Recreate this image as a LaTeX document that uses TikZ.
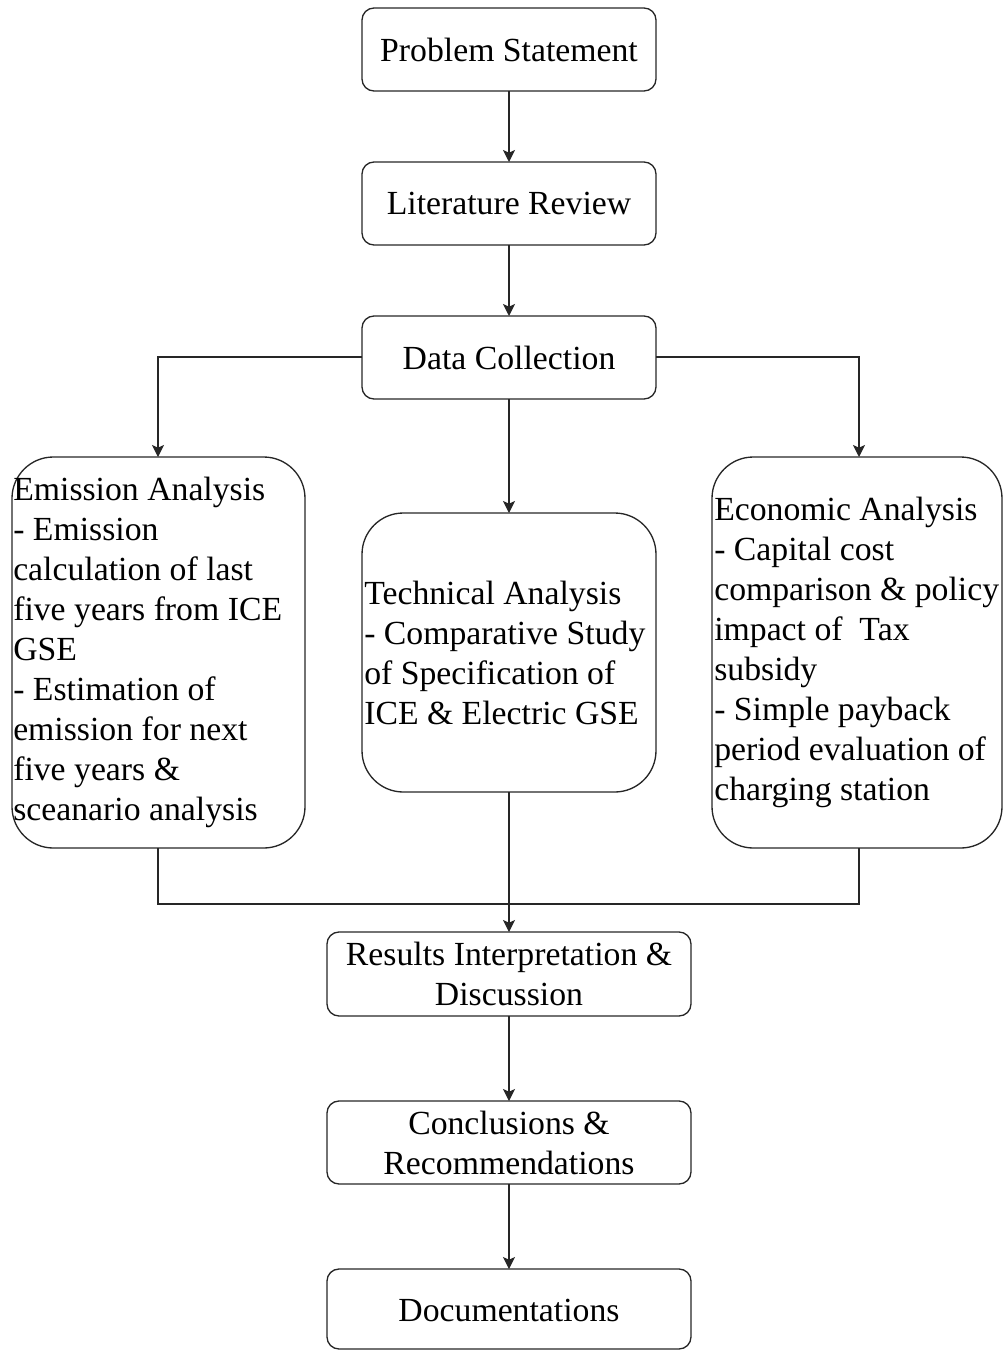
\documentclass[tikz,border=0pt]{standalone}
\usepackage{fontspec}
\setmainfont{Liberation Serif}
\usetikzlibrary{arrows.meta}
\begin{document}
\begin{tikzpicture}[x=0.75pt,y=-0.75pt,
  box/.style={draw=black!85,line width=1pt,rounded corners=9pt},
  bigbox/.style={draw=black!85,line width=1pt,rounded corners=31pt},
  txt/.style={font=\fontsize{25.3}{30}\selectfont,inner sep=0pt},
  ltxt/.style={font=\fontsize{25.3}{30}\selectfont,inner sep=0pt,align=left,anchor=west},
  conn/.style={draw=black!85,line width=1pt},
  arr/.style={conn,-{Stealth[length=9pt,width=9pt,inset=2pt]}}]
\useasboundingbox (0,0) rectangle (1003,1350);
% boxes
\draw[box] (362,8) rectangle (656,91);
\node[txt] (ps) at (509,49.5) {Problem Statement};
\draw[box] (362,162) rectangle (656,245);
\node[txt] (lr) at (509,203.5) {Literature Review};
\draw[box] (362,316) rectangle (656,399);
\node[txt] (dc) at (509,357.5) {Data Collection};
\draw[bigbox] (12,457) rectangle (305,848);
\node[ltxt] (ea) at (13,652.5) {Emission Analysis\\- Emission\\calculation of last\\five years from ICE\\GSE\\- Estimation of\\emission for next\\five years \&\\sceanario analysis};
\draw[bigbox] (362,513) rectangle (656,792);
\node[ltxt] (ta) at (364,652.5) {Technical Analysis\\- Comparative Study\\of Specification of\\ICE \& Electric GSE};
\draw[bigbox] (712,457) rectangle (1002,848);
\node[ltxt] (eco) at (714,652.5) {Economic Analysis\\- Capital cost\\comparison \& policy\\impact of\ \ Tax\\subsidy\\- Simple payback\\period evaluation of\\charging station};
\draw[box] (327,932) rectangle (691,1016);
\node[txt,align=center] (ri) at (509,974) {Results Interpretation \&\\Discussion};
\draw[box] (327,1101) rectangle (691,1184);
\node[txt,align=center] (cr) at (509,1142.5) {Conclusions \&\\Recommendations};
\draw[box] (327,1269) rectangle (691,1349);
\node[txt] (doc) at (509,1310) {Documentations};
% connector anchor coordinates
\coordinate (psB) at (509,91);
\coordinate (lrT) at (509,162);
\coordinate (lrB) at (509,245);
\coordinate (dcT) at (509,316);
\coordinate (dcB) at (509,399);
\coordinate (dcL) at (362,357);
\coordinate (dcR) at (656,357);
\coordinate (eaT) at (158,457);
\coordinate (eaB) at (158,848);
\coordinate (taT) at (509,513);
\coordinate (taB) at (509,792);
\coordinate (ecoT) at (859,457);
\coordinate (ecoB) at (859,848);
\coordinate (riT) at (509,932);
\coordinate (riB) at (509,1016);
\coordinate (crT) at (509,1101);
\coordinate (crB) at (509,1184);
\coordinate (docT) at (509,1269);
\coordinate (join) at (509,904);
% connectors
\draw[arr] (psB) -- (lrT);
\draw[arr] (lrB) -- (dcT);
\draw[arr] (dcL) -| (eaT);
\draw[arr] (dcR) -| (ecoT);
\draw[arr] (dcB) -- (taT);
\draw[arr] (taB) -- (riT);
\draw[conn] (eaB) |- (join);
\draw[conn] (ecoB) |- (join);
\draw[arr] (riB) -- (crT);
\draw[arr] (crB) -- (docT);
\end{tikzpicture}
\end{document}
